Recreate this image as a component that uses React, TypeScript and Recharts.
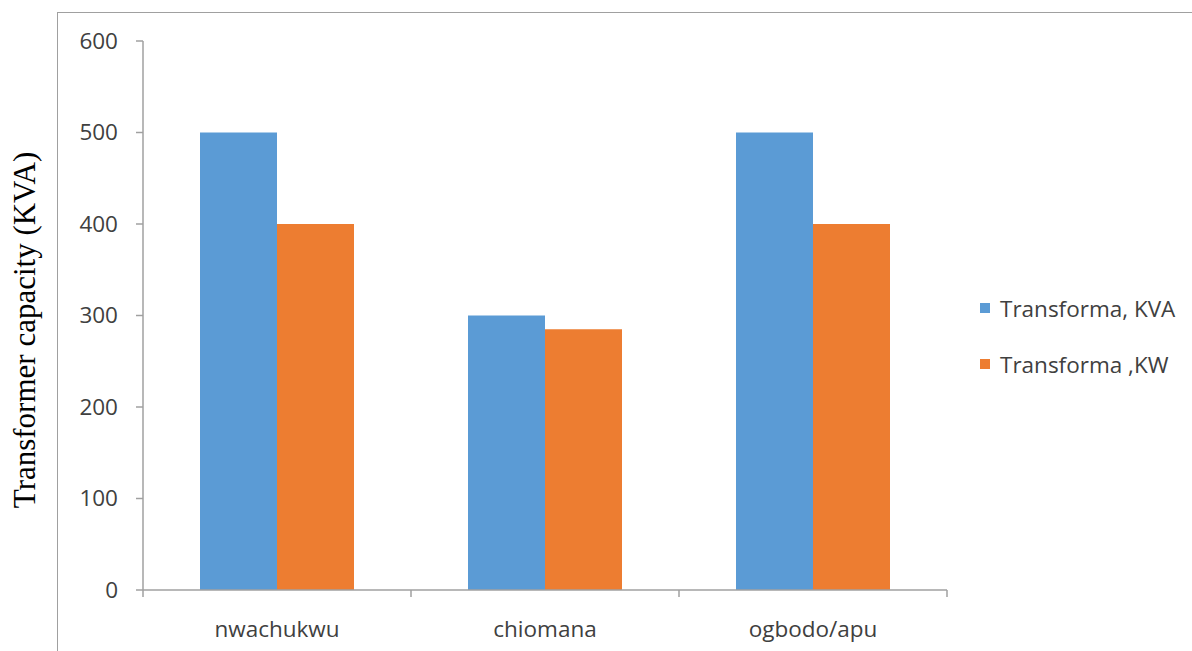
import React from 'react';
import { BarChart, Bar, XAxis, YAxis } from 'recharts';

const categories = ['nwachukwu', 'chiomana', 'ogbodo/apu'];
const kvaValues = [500, 300, 500];
const kwValues = [400, 285, 400];
const yTicks = [0, 100, 200, 300, 400, 500, 600];

const seriesNames = ['Transforma, KVA', 'Transforma ,KW'];
const seriesColors = ['#5b9bd5', '#ed7d31'];

const data = categories.map((name, i) => ({ name, kva: kvaValues[i], kw: kwValues[i] }));

const W = 1192;
const H = 651;
const margin = { top: 41, right: 245, bottom: 0, left: 0 };
const xAxisHeight = 61;
const yAxisWidth = 143;
const bandWidth = (W - margin.right - yAxisWidth) / categories.length;
const axisColor = '#a0a0a0';
const textColor = '#404040';
const uiFont = '"Open Sans", "Noto Sans", sans-serif';
const fontSize = 22.5;

// x tick: label at centre, tick marks at band edges
const XTick = (props: any) => {
  const { x, y, payload, index } = props;
  const left = x - bandWidth / 2;
  const right = x + bandWidth / 2;
  return (
    <g>
      <line x1={left} y1={y} x2={left} y2={y + 7} stroke={axisColor} strokeWidth={1.5} />
      {index === categories.length - 1 && (
        <line x1={right} y1={y} x2={right} y2={y + 7} stroke={axisColor} strokeWidth={1.5} />
      )}
      <text x={x} y={y + 47} textAnchor="middle" fill={textColor} fontSize={fontSize} fontFamily={uiFont}>
        {payload.value}
      </text>
    </g>
  );
};

const YLabel = () => (
  <text
    x={35}
    y={330}
    transform="rotate(-90, 35, 330)"
    textAnchor="middle"
    fill="#000"
    fontSize={31}
    fontFamily='"Liberation Serif", "DejaVu Serif", serif'
  >
    Transformer capacity (KVA)
  </text>
);

export default function App() {
  return (
    <div style={{ position: 'absolute', left: 0, top: 0, width: W, height: H, background: '#fff', overflow: 'hidden' }}>
      <div
        style={{
          position: 'absolute',
          left: 57,
          top: 12,
          width: W,
          height: H,
          borderLeft: `1.5px solid ${axisColor}`,
          borderTop: `1.5px solid ${axisColor}`,
        }}
      />
      <BarChart width={W} height={H} data={data} margin={margin} barGap={0} barSize={77}>
        <XAxis
          dataKey="name"
          height={xAxisHeight}
          tick={<XTick />}
          tickLine={false}
          tickSize={0}
          tickMargin={0}
          axisLine={{ stroke: axisColor, strokeWidth: 1.5 }}
          interval={0}
        />
        <YAxis
          width={yAxisWidth}
          domain={[0, 600]}
          ticks={yTicks}
          interval={0}
          tickSize={7}
          tickMargin={18}
          tickLine={{ stroke: axisColor, strokeWidth: 1.5 }}
          axisLine={{ stroke: axisColor, strokeWidth: 1.5 }}
          tick={{ fill: textColor, fontSize, fontFamily: uiFont }}
          label={<YLabel />}
        />
        <Bar dataKey="kva" name={seriesNames[0]} fill={seriesColors[0]} isAnimationActive={false} />
        <Bar dataKey="kw" name={seriesNames[1]} fill={seriesColors[1]} isAnimationActive={false} />
      </BarChart>
      <div style={{ position: 'absolute', left: 980, top: 280, fontFamily: uiFont, fontSize, color: textColor }}>
        {seriesNames.map((n, i) => (
          <div key={n} style={{ display: 'flex', alignItems: 'center', height: 56, whiteSpace: 'nowrap' }}>
            <span style={{ width: 10, height: 10, background: seriesColors[i], marginRight: 10, display: 'inline-block' }} />
            <span>{n}</span>
          </div>
        ))}
      </div>
    </div>
  );
}
